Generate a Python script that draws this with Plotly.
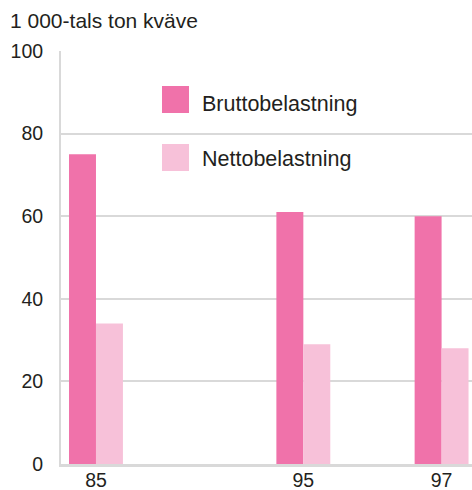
import plotly.graph_objects as go

# ---- data ----
years = ["85", "95", "97"]
brutto = [75, 61, 60]
netto = [34, 29, 28]
series_names = ["Bruttobelastning", "Nettobelastning"]
y_ticks = [0, 20, 40, 60, 80, 100]
title_text = "1 000-tals ton kväve"

# ---- layout helpers ----
slot = [0, 1.5, 2.5]  # horizontal slots for the year groups
c_brutto = "#f072aa"
c_netto = "#f7c1d9"
grid_c = "#d9d9d9"
txt_c = "#231f20"
font_family = "Liberation Sans, Arial, Helvetica, sans-serif"

W, H = 472, 490
ml, mr, mt, mb = 61, 0, 51, 26
pw, ph = W - ml - mr, H - mt - mb


def px_x(x):
    return (x - ml) / pw


def px_y(y):
    return (H - mb - y) / ph


fig = go.Figure()
fig.add_trace(go.Bar(x=slot, y=brutto, name=series_names[0], marker=dict(color=c_brutto, line=dict(width=0)), showlegend=False))
fig.add_trace(go.Bar(x=slot, y=netto, name=series_names[1], marker=dict(color=c_netto, line=dict(width=0)), showlegend=False))

shapes = [
    # legend background box
    dict(type="rect", xref="paper", yref="paper", x0=px_x(157), x1=px_x(386), y0=px_y(190), y1=px_y(70),
         fillcolor="white", line=dict(width=0), layer="between"),
    dict(type="rect", xref="paper", yref="paper", x0=px_x(162), x1=px_x(189), y0=px_y(113), y1=px_y(86),
         fillcolor=c_brutto, line=dict(width=0), layer="above"),
    dict(type="rect", xref="paper", yref="paper", x0=px_x(162), x1=px_x(189), y0=px_y(171), y1=px_y(144),
         fillcolor=c_netto, line=dict(width=0), layer="above"),
]
annotations = [
    dict(text=series_names[0], xref="paper", yref="paper", x=px_x(200), y=px_y(104), xanchor="left", yanchor="middle",
         showarrow=False, font=dict(size=21.5, color=txt_c, family=font_family)),
    dict(text=series_names[1], xref="paper", yref="paper", x=px_x(200), y=px_y(159), xanchor="left", yanchor="middle",
         showarrow=False, font=dict(size=21.5, color=txt_c, family=font_family)),
    dict(text=title_text, xref="paper", yref="paper", x=px_x(8), y=px_y(21), xanchor="left", yanchor="middle",
         showarrow=False, font=dict(size=21, color=txt_c, family=font_family)),
]

fig.update_layout(
    width=W, height=H,
    margin=dict(l=ml, r=mr, t=mt, b=mb, autoexpand=False),
    paper_bgcolor="white", plot_bgcolor="white",
    barmode="group", bargap=0.61, bargroupgap=0,
    font=dict(family=font_family, size=19.5, color=txt_c),
    shapes=shapes, annotations=annotations,
    showlegend=False,
    xaxis=dict(range=[-0.253, 2.72], tickvals=slot, ticktext=years, showgrid=False, zeroline=False,
               showline=True, linecolor=grid_c, linewidth=2.5, ticks="", ticklabelstandoff=-3,
               tickfont=dict(size=19.5), automargin=False, fixedrange=True),
    yaxis=dict(range=[0, 100], tickvals=y_ticks, showgrid=True, gridcolor=grid_c, gridwidth=2,
               zeroline=False, showline=True, linecolor=grid_c, linewidth=2, ticks="",
               ticklabelstandoff=12, tickfont=dict(size=19.5), automargin=False, fixedrange=True),
)

fig.write_html("out.html", config={"displayModeBar": False},
               post_script="document.body.style.margin='0';document.body.style.overflow='hidden';")
